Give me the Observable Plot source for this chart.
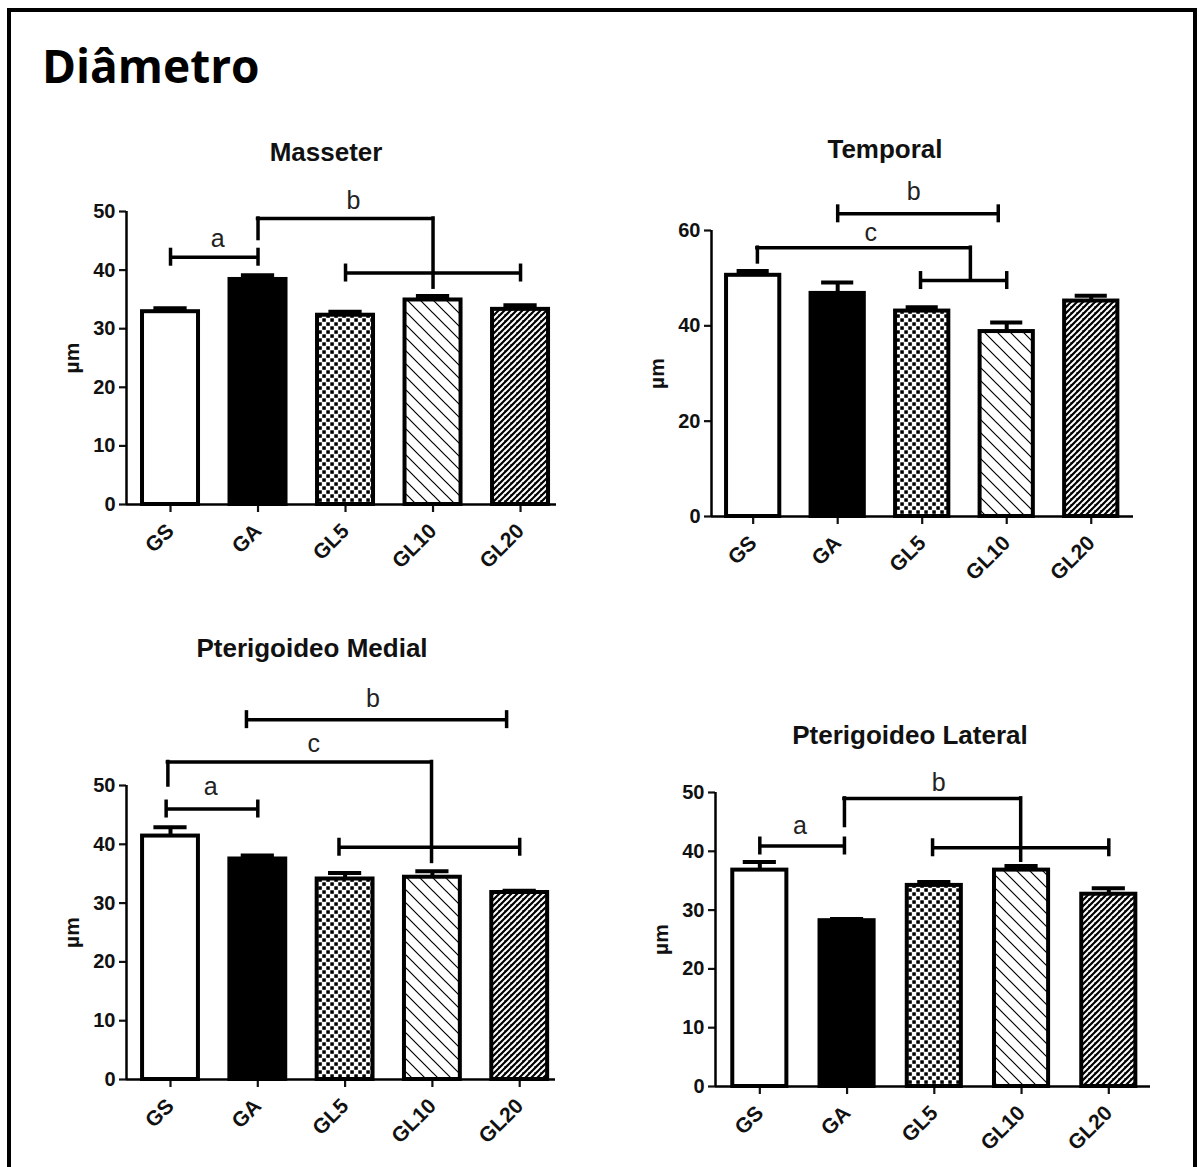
<!DOCTYPE html>
<html><head><meta charset="utf-8">
<script src="https://cdn.jsdelivr.net/npm/d3@7"></script>
<script src="https://cdn.jsdelivr.net/npm/@observablehq/plot@0.6"></script>
<style>
html,body{margin:0;padding:0;background:#fff;width:1199px;height:1167px;overflow:hidden;position:relative;}
#frame{position:absolute;left:7px;top:8px;width:1190px;height:1220px;border:4px solid #000;box-sizing:border-box;}
#main{position:absolute;left:42px;top:42px;font-family:"Open Sans",sans-serif;font-weight:700;font-size:46px;line-height:47px;color:#000;}
.title{position:absolute;transform:translate(-50%,-50%);font-family:"Liberation Sans",Arial,sans-serif;font-weight:bold;font-size:26px;color:#111;white-space:nowrap;}
.panel{position:absolute;}
.panel [aria-label^="x-axis"] line,.panel [aria-label^="x-axis"] path,
.panel [aria-label^="y-axis"] line,.panel [aria-label^="y-axis"] path{stroke-width:2.2px;}
.panel [aria-label^="x-axis"] text{font-size:21px !important;font-weight:bold;}
.panel [aria-label^="y-axis"] text{font-size:20px !important;font-weight:bold;}
</style>
</head><body>
<svg width="0" height="0" style="position:absolute">
  <defs>
    <pattern id="pChecker" patternUnits="userSpaceOnUse" width="8" height="8">
      <rect width="8" height="8" fill="#fff"/>
      <rect x="0.3" y="0.3" width="3.5" height="3.5" fill="#000"/>
      <rect x="4.3" y="4.3" width="3.5" height="3.5" fill="#000"/>
    </pattern>
    <pattern id="pHatch" patternUnits="userSpaceOnUse" width="13" height="13">
      <rect width="13" height="13" fill="#fff"/>
      <path d="M-2,-2 L15,15 M-8,5 L8,21 M5,-8 L21,8" stroke="#000" stroke-width="1.2"/>
    </pattern>
    <pattern id="pDense" patternUnits="userSpaceOnUse" width="6" height="6">
      <rect width="6" height="6" fill="#000"/>
      <path d="M-1,7 L7,-1 M-1,1 L1,-1 M5,7 L7,5" stroke="#fff" stroke-width="2"/>
      <path d="M0.5,0.5 L2,2" stroke="#000" stroke-width="1.2"/>
    </pattern>
  </defs>
</svg>
<div id="frame"></div>
<div id="main">Diâmetro</div>
<div id="root"></div>
<script>
// ---- data ----
const groups = ["GS", "GA", "GL5", "GL10", "GL20"];

const masseterTitle = "Masseter";
const masseterMean = [32.9, 38.4, 32.3, 34.9, 33.3];
const masseterErr  = [0.6, 0.7, 0.6, 0.7, 0.7];
const masseterTicks = [0, 10, 20, 30, 40, 50];
// brackets: [fromIndex, toIndex, y]
const masseterBrackets = [[0, 1, 42.2], [2, 4, 39.5]];
// joined brackets: [fromIndex, toIndex, y, yLeftEnd, yRightEnd]
const masseterJoins = [[1, 3, 48.8, 45.3, 37.0]];
const masseterLetters = [["a", 0.54, 45.3], ["b", 2.09, 51.8]];

const temporalTitle = "Temporal";
const temporalMean = [50.6, 46.8, 43.1, 38.8, 45.2];
const temporalErr  = [0.9, 2.3, 0.8, 1.9, 1.1];
const temporalTicks = [0, 20, 40, 60];
const temporalBrackets = [[1, 2.9, 63.5], [1.98, 3, 49.5]];
const temporalJoins = [[0.05, 2.57, 56.4, 53.3, 49.7]];
const temporalLetters = [["b", 1.9, 68.0], ["c", 1.39, 59.4]];

const medialTitle = "Pterigoideo Medial";
const medialMean = [41.4, 37.5, 34.1, 34.4, 31.8];
const medialErr  = [1.5, 0.6, 1.0, 1.0, 0.3];
const medialTicks = [0, 10, 20, 30, 40, 50];
const medialBrackets = [[-0.05, 1, 46.0], [0.87, 3.85, 61.2], [1.93, 4, 39.5]];
const medialJoins = [[-0.03, 2.99, 54.0, 50.0, 37.0]];
const medialLetters = [["a", 0.46, 49.7], ["b", 2.32, 64.7], ["c", 1.64, 57.1]];

const lateralTitle = "Pterigoideo Lateral";
const lateralMean = [36.8, 28.2, 34.2, 36.8, 32.7];
const lateralErr  = [1.4, 0.3, 0.6, 0.7, 1.0];
const lateralTicks = [0, 10, 20, 30, 40, 50];
const lateralBrackets = [[0, 0.97, 40.9], [1.98, 4, 40.6]];
const lateralJoins = [[0.97, 2.99, 49.0, 44.3, 38.4]];
const lateralLetters = [["a", 0.46, 44.3], ["b", 2.05, 51.7]];

const fills = ["#ffffff", "#000000", "url(#pChecker)", "url(#pHatch)", "url(#pDense)"];

// ---- drawing ----
const root = document.getElementById("root");

function addTitle(text, cx, cy) {
  const d = document.createElement("div");
  d.className = "title";
  d.textContent = text;
  d.style.left = cx + "px";
  d.style.top = cy + "px";
  root.appendChild(d);
}

function panel(cfg) {
  const {left, top, width, height, ml, mr, mt, mb, xdom, ymax, yticks, mean, err, brackets, joins, letters, bw} = cfg;
  const data = groups.map((g, i) => ({g, i, v: mean[i], e: err[i]}));
  const pxPerUnit = (height - mt - mb) / ymax;
  const cap = 9 / pxPerUnit;
  const ends = brackets.flatMap(b => [[b[0], b[2]], [b[1], b[2]]]);
  const lw = 3.5;
  const plot = Plot.plot({
    width, height,
    marginLeft: ml, marginRight: mr, marginTop: mt, marginBottom: mb,
    style: {background: "transparent", overflow: "visible", fontFamily: '"Liberation Sans", Arial, sans-serif', fontSize: "20px", fontWeight: "bold", color: "#111"},
    x: {domain: xdom, ticks: [0, 1, 2, 3, 4], tickFormat: i => groups[i], tickRotate: -45, tickSize: 8, tickPadding: 15, label: null},
    y: {domain: [0, ymax], ticks: yticks, tickSize: 7, tickPadding: 4, label: null},
    color: {type: "identity"},
    marks: [
      Plot.ruleX(data, {x: "i", y1: "v", y2: d => d.v + d.e, stroke: "#000", strokeWidth: 4}),
      Plot.ruleY(data, {y: d => d.v + d.e, x1: d => d.i - 0.19, x2: d => d.i + 0.19, stroke: "#000", strokeWidth: 4}),
      Plot.rectY(data, {x1: d => d.i - bw / 2, x2: d => d.i + bw / 2, y1: 0, y2: "v", fill: d => fills[d.i], stroke: "#000", strokeWidth: 4}),
      Plot.ruleY([0], {stroke: "#000", strokeWidth: 2.5}),
      Plot.ruleX([xdom[0]], {y1: 0, y2: ymax, stroke: "#000", strokeWidth: 2.5}),
      Plot.ruleY(brackets, {y: d => d[2], x1: d => d[0], x2: d => d[1], stroke: "#000", strokeWidth: lw}),
      Plot.ruleX(ends, {x: d => d[0], y1: d => d[1] - cap, y2: d => d[1] + cap, stroke: "#000", strokeWidth: lw}),
      Plot.ruleY(joins, {y: d => d[2], x1: d => d[0], x2: d => d[1], stroke: "#000", strokeWidth: lw, strokeLinecap: "square"}),
      Plot.ruleX(joins, {x: d => d[0], y1: d => d[3], y2: d => d[2], stroke: "#000", strokeWidth: lw, strokeLinecap: "square"}),
      Plot.ruleX(joins, {x: d => d[1], y1: d => d[4], y2: d => d[2], stroke: "#000", strokeWidth: lw, strokeLinecap: "square"}),
      Plot.text(letters, {x: d => d[1], y: d => d[2], text: d => d[0], fontSize: 25, fontWeight: "normal", lineAnchor: "middle", fill: "#222"}),
      Plot.text(["µm"], {frameAnchor: "left", rotate: -90, dx: -54, fontSize: 21, fontWeight: "bold", textAnchor: "middle", lineAnchor: "middle", fill: "#111"})
    ]
  });
  const wrap = document.createElement("div");
  wrap.className = "panel";
  wrap.style.left = left + "px";
  wrap.style.top = top + "px";
  wrap.appendChild(plot);
  root.appendChild(wrap);
}

panel({left: 30, top: 170, width: 540, height: 400, ml: 96, mr: 14, mt: 41, mb: 66,
  xdom: [-0.503, 4.411], ymax: 50, yticks: masseterTicks, mean: masseterMean, err: masseterErr,
  brackets: masseterBrackets, joins: masseterJoins, letters: masseterLetters, bw: 0.64});
addTitle(masseterTitle, 326, 152);

panel({left: 620, top: 150, width: 540, height: 420, ml: 91, mr: 27, mt: 80, mb: 54,
  xdom: [-0.493, 4.5], ymax: 60, yticks: temporalTicks, mean: temporalMean, err: temporalErr,
  brackets: temporalBrackets, joins: temporalJoins, letters: temporalLetters, bw: 0.63});
addTitle(temporalTitle, 885, 149);

panel({left: 30, top: 670, width: 540, height: 490, ml: 96, mr: 15, mt: 115, mb: 81,
  xdom: [-0.504, 4.41], ymax: 50, yticks: medialTicks, mean: medialMean, err: medialErr,
  brackets: medialBrackets, joins: medialJoins, letters: medialLetters, bw: 0.64});
addTitle(medialTitle, 312, 648);

panel({left: 620, top: 760, width: 550, height: 400, ml: 95, mr: 20, mt: 32, mb: 74,
  xdom: [-0.508, 4.478], ymax: 50, yticks: lateralTicks, mean: lateralMean, err: lateralErr,
  brackets: lateralBrackets, joins: lateralJoins, letters: lateralLetters, bw: 0.62});
addTitle(lateralTitle, 910, 735);
</script>
</body></html>
